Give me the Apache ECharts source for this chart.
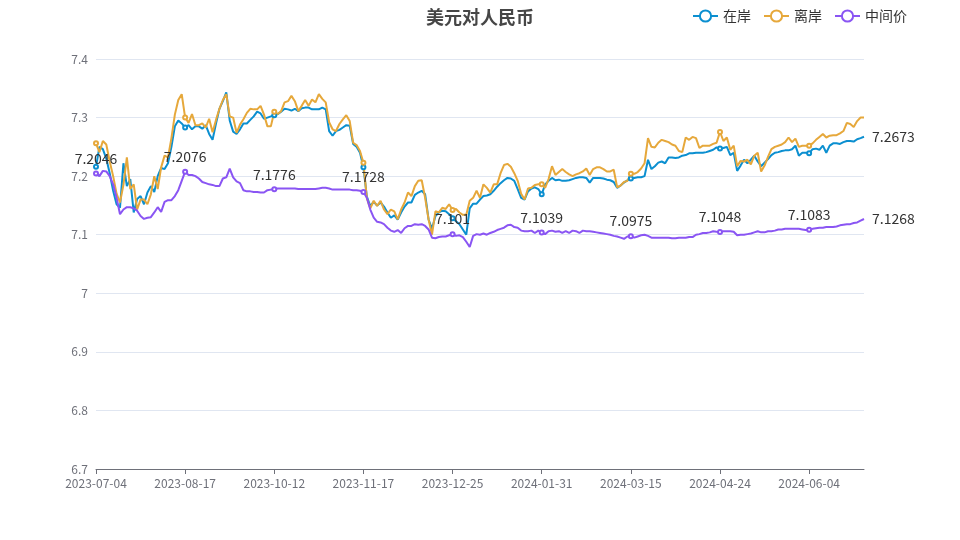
<html>
    <head>
        <title>美元对人民币</title>
        <meta charset="utf-8">
        <script type="text/javascript" src="https://cdn.jsdelivr.net/npm/echarts@6/dist/echarts.min.js"></script>
        <style>
            html, body { margin: 0; padding: 0; background: #fff; }
        </style>
    </head>
    <body>
        <div id="usdCnyChart" style="width:960px;height:540px"></div>
        <script type="text/javascript">
            var dates = [
                '2023-07-04','2023-07-05','2023-07-06','2023-07-10','2023-07-11','2023-07-12','2023-07-13','2023-07-17','2023-07-18','2023-07-19',
                '2023-07-20','2023-07-24','2023-07-25','2023-07-26','2023-07-27','2023-07-31','2023-08-01','2023-08-02','2023-08-03','2023-08-07',
                '2023-08-08','2023-08-09','2023-08-10','2023-08-14','2023-08-15','2023-08-16','2023-08-17','2023-08-21','2023-08-22','2023-08-23',
                '2023-08-24','2023-08-28','2023-08-29','2023-08-30','2023-08-31','2023-09-04','2023-09-05','2023-09-06','2023-09-07','2023-09-11',
                '2023-09-12','2023-09-13','2023-09-14','2023-09-18','2023-09-19','2023-09-20','2023-09-21','2023-09-25','2023-09-26','2023-09-27',
                '2023-10-10','2023-10-11','2023-10-12','2023-10-13','2023-10-16','2023-10-17','2023-10-18','2023-10-19','2023-10-20','2023-10-23',
                '2023-10-24','2023-10-25','2023-10-26','2023-10-27','2023-10-30','2023-10-31','2023-11-01','2023-11-02','2023-11-03','2023-11-06',
                '2023-11-07','2023-11-08','2023-11-09','2023-11-10','2023-11-13','2023-11-14','2023-11-15','2023-11-16','2023-11-17','2023-11-20',
                '2023-11-21','2023-11-22','2023-11-23','2023-11-24','2023-11-27','2023-11-28','2023-11-29','2023-11-30','2023-12-01','2023-12-04',
                '2023-12-05','2023-12-06','2023-12-07','2023-12-08','2023-12-11','2023-12-12','2023-12-13','2023-12-14','2023-12-15','2023-12-18',
                '2023-12-19','2023-12-20','2023-12-21','2023-12-22','2023-12-25','2023-12-26','2023-12-27','2023-12-28','2023-12-29','2024-01-02',
                '2024-01-03','2024-01-04','2024-01-05','2024-01-08','2024-01-09','2024-01-10','2024-01-11','2024-01-12','2024-01-15','2024-01-16',
                '2024-01-17','2024-01-18','2024-01-19','2024-01-22','2024-01-23','2024-01-24','2024-01-25','2024-01-26','2024-01-29','2024-01-30',
                '2024-01-31','2024-02-01','2024-02-02','2024-02-05','2024-02-06','2024-02-07','2024-02-08','2024-02-19','2024-02-20','2024-02-21',
                '2024-02-22','2024-02-23','2024-02-26','2024-02-27','2024-02-28','2024-02-29','2024-03-01','2024-03-04','2024-03-05','2024-03-06',
                '2024-03-07','2024-03-08','2024-03-11','2024-03-12','2024-03-13','2024-03-14','2024-03-15','2024-03-18','2024-03-19','2024-03-20',
                '2024-03-21','2024-03-22','2024-03-25','2024-03-26','2024-03-27','2024-03-28','2024-03-29','2024-04-01','2024-04-02','2024-04-03',
                '2024-04-08','2024-04-09','2024-04-10','2024-04-11','2024-04-12','2024-04-15','2024-04-16','2024-04-17','2024-04-18','2024-04-19',
                '2024-04-22','2024-04-23','2024-04-24','2024-04-25','2024-04-26','2024-04-29','2024-04-30','2024-05-06','2024-05-07','2024-05-08',
                '2024-05-09','2024-05-10','2024-05-13','2024-05-14','2024-05-15','2024-05-16','2024-05-17','2024-05-20','2024-05-21','2024-05-22',
                '2024-05-23','2024-05-24','2024-05-27','2024-05-28','2024-05-29','2024-05-30','2024-05-31','2024-06-03','2024-06-04','2024-06-05',
                '2024-06-06','2024-06-07','2024-06-11','2024-06-12','2024-06-13','2024-06-14','2024-06-17','2024-06-18','2024-06-19','2024-06-20',
                '2024-06-21','2024-06-24','2024-06-25','2024-06-26','2024-06-27'
            ];

            // 在岸 (onshore CNY)
            var onshore = [
                7.216,7.250,7.246,7.230,7.205,7.175,7.152,7.146,7.222,7.183,
                7.195,7.138,7.161,7.166,7.152,7.172,7.183,7.173,7.200,7.214,
                7.212,7.222,7.250,7.285,7.295,7.290,7.283,7.287,7.280,7.285,
                7.285,7.281,7.287,7.272,7.262,7.290,7.315,7.328,7.343,7.295,
                7.276,7.272,7.280,7.290,7.290,7.296,7.302,7.310,7.307,7.298,
                7.300,7.302,7.304,7.306,7.310,7.315,7.314,7.312,7.315,7.311,
                7.316,7.317,7.317,7.314,7.314,7.314,7.317,7.314,7.277,7.269,
                7.277,7.279,7.283,7.287,7.286,7.255,7.250,7.240,7.215,7.165,
                7.149,7.156,7.150,7.155,7.148,7.138,7.129,7.133,7.126,7.138,
                7.148,7.155,7.155,7.168,7.172,7.175,7.169,7.126,7.110,7.132,
                7.138,7.141,7.140,7.135,7.128,7.123,7.118,7.109,7.100,7.145,
                7.153,7.153,7.160,7.166,7.167,7.169,7.175,7.182,7.188,7.193,
                7.197,7.196,7.192,7.178,7.163,7.160,7.174,7.179,7.181,7.178,
                7.169,7.186,7.192,7.197,7.193,7.194,7.192,7.192,7.193,7.195,
                7.197,7.198,7.198,7.197,7.189,7.197,7.197,7.197,7.196,7.194,
                7.193,7.190,7.180,7.184,7.189,7.193,7.196,7.197,7.198,7.198,
                7.200,7.228,7.212,7.217,7.223,7.225,7.222,7.232,7.232,7.231,
                7.232,7.235,7.236,7.239,7.239,7.240,7.240,7.240,7.241,7.243,
                7.245,7.249,7.247,7.248,7.250,7.236,7.240,7.209,7.218,7.228,
                7.222,7.228,7.235,7.225,7.217,7.223,7.229,7.236,7.240,7.241,
                7.243,7.244,7.244,7.246,7.252,7.235,7.240,7.240,7.239,7.246,
                7.247,7.245,7.252,7.240,7.252,7.256,7.256,7.255,7.258,7.260,
                7.260,7.259,7.263,7.265,7.2673
            ];

            // 离岸 (offshore CNH)
            var offshore = [
                7.256,7.241,7.260,7.254,7.225,7.200,7.170,7.155,7.185,7.232,
                7.178,7.186,7.143,7.160,7.160,7.152,7.169,7.200,7.178,7.215,
                7.235,7.232,7.265,7.305,7.330,7.340,7.300,7.291,7.306,7.287,
                7.287,7.290,7.283,7.298,7.275,7.296,7.315,7.330,7.340,7.302,
                7.300,7.274,7.288,7.297,7.308,7.315,7.314,7.314,7.320,7.305,
                7.285,7.285,7.310,7.306,7.311,7.326,7.328,7.337,7.328,7.311,
                7.320,7.330,7.320,7.331,7.326,7.340,7.332,7.326,7.292,7.280,
                7.277,7.289,7.297,7.304,7.294,7.257,7.253,7.243,7.223,7.162,
                7.145,7.158,7.149,7.158,7.143,7.135,7.143,7.140,7.126,7.143,
                7.155,7.172,7.166,7.183,7.192,7.193,7.163,7.126,7.100,7.140,
                7.138,7.146,7.144,7.152,7.142,7.144,7.138,7.134,7.134,7.158,
                7.163,7.175,7.163,7.186,7.180,7.172,7.186,7.186,7.205,7.219,
                7.221,7.216,7.205,7.192,7.170,7.160,7.179,7.180,7.185,7.186,
                7.186,7.180,7.195,7.217,7.202,7.207,7.212,7.207,7.203,7.200,
                7.203,7.205,7.208,7.213,7.202,7.212,7.215,7.215,7.212,7.208,
                7.208,7.211,7.181,7.184,7.190,7.192,7.204,7.204,7.207,7.213,
                7.222,7.265,7.250,7.249,7.257,7.262,7.260,7.258,7.254,7.252,
                7.243,7.241,7.266,7.262,7.267,7.265,7.248,7.252,7.252,7.252,
                7.255,7.257,7.2755,7.260,7.266,7.245,7.252,7.217,7.226,7.225,
                7.228,7.220,7.235,7.240,7.208,7.218,7.233,7.246,7.250,7.252,
                7.254,7.258,7.266,7.258,7.264,7.250,7.252,7.252,7.252,7.256,
                7.262,7.267,7.272,7.266,7.269,7.270,7.270,7.273,7.277,7.291,
                7.289,7.284,7.294,7.300,7.300
            ];

            // 中间价 (central parity)
            var midpoint = [
                7.2046,7.200,7.209,7.208,7.200,7.186,7.163,7.135,7.143,7.147,
                7.147,7.145,7.141,7.132,7.127,7.129,7.130,7.138,7.147,7.139,
                7.156,7.159,7.159,7.166,7.176,7.192,7.2076,7.202,7.202,7.200,
                7.196,7.190,7.188,7.186,7.185,7.183,7.183,7.196,7.198,7.213,
                7.198,7.191,7.188,7.176,7.174,7.174,7.173,7.173,7.172,7.172,
                7.176,7.177,7.1776,7.179,7.179,7.179,7.179,7.179,7.179,7.178,
                7.178,7.178,7.178,7.178,7.178,7.179,7.180,7.180,7.179,7.177,
                7.177,7.177,7.177,7.177,7.177,7.176,7.176,7.175,7.1728,7.163,
                7.143,7.129,7.122,7.121,7.118,7.112,7.107,7.105,7.108,7.103,
                7.111,7.115,7.115,7.118,7.117,7.118,7.115,7.109,7.095,7.094,
                7.096,7.097,7.097,7.099,7.101,7.098,7.099,7.096,7.088,7.079,
                7.098,7.101,7.100,7.102,7.100,7.103,7.105,7.108,7.110,7.112,
                7.116,7.117,7.113,7.112,7.107,7.106,7.106,7.107,7.103,7.107,
                7.1039,7.101,7.106,7.107,7.105,7.106,7.103,7.106,7.103,7.107,
                7.106,7.103,7.107,7.106,7.106,7.105,7.104,7.103,7.102,7.101,
                7.100,7.098,7.097,7.095,7.093,7.097,7.0975,7.095,7.097,7.099,
                7.100,7.098,7.095,7.095,7.095,7.095,7.095,7.095,7.094,7.094,
                7.095,7.095,7.095,7.096,7.096,7.100,7.101,7.103,7.103,7.104,
                7.106,7.105,7.1048,7.106,7.106,7.106,7.105,7.099,7.100,7.100,
                7.101,7.102,7.104,7.106,7.104,7.104,7.106,7.106,7.107,7.109,
                7.109,7.110,7.110,7.110,7.110,7.110,7.109,7.108,7.1083,7.110,
                7.111,7.112,7.112,7.113,7.113,7.113,7.114,7.116,7.117,7.118,
                7.118,7.120,7.121,7.124,7.1268
            ];

            var yTicks = { min: 6.7, max: 7.4, step: 0.1 };

            var chart = echarts.init(document.getElementById('usdCnyChart'));
            chart.setOption({
                animation: false,
                textStyle: { fontFamily: 'Noto Sans CJK SC' },
                title: {
                    text: '美元对人民币',
                    left: 'center',
                    top: 3,
                    textStyle: { fontSize: 18, fontWeight: 'bold', color: '#464646' }
                },
                legend: {
                    right: 48,
                    top: 4,
                    itemGap: 12,
                    textStyle: { fontSize: 14, color: '#333' },
                    data: ['在岸', '离岸', '中间价']
                },
                grid: { left: 96, right: 96, top: 59, bottom: 71 },
                xAxis: {
                    type: 'category',
                    boundaryGap: false,
                    data: dates,
                    axisLine: { lineStyle: { color: '#6e7079' } },
                    axisLabel: { interval: 25, color: '#6e7079', fontSize: 12 }
                },
                yAxis: {
                    type: 'value',
                    min: yTicks.min,
                    max: yTicks.max,
                    interval: yTicks.step,
                    axisLabel: { color: '#6e7079', fontSize: 12 },
                    splitLine: { lineStyle: { color: '#e0e6f1' } }
                },
                series: [
                    {
                        name: '在岸',
                        type: 'line',
                        data: onshore,
                        color: '#0b8fd0',
                        symbolSize: 4,
                        lineStyle: { width: 2 },
                        endLabel: { show: true, fontSize: 14, color: '#333' }
                    },
                    {
                        name: '离岸',
                        type: 'line',
                        data: offshore,
                        color: '#e6a83b',
                        symbolSize: 4,
                        lineStyle: { width: 2 }
                    },
                    {
                        name: '中间价',
                        type: 'line',
                        data: midpoint,
                        color: '#8a55f3',
                        symbolSize: 4,
                        lineStyle: { width: 2 },
                        label: { show: true, position: 'top', fontSize: 14, color: '#333' },
                        endLabel: { show: true, fontSize: 14, color: '#333' }
                    }
                ]
            });
        </script>
    </body>
</html>
